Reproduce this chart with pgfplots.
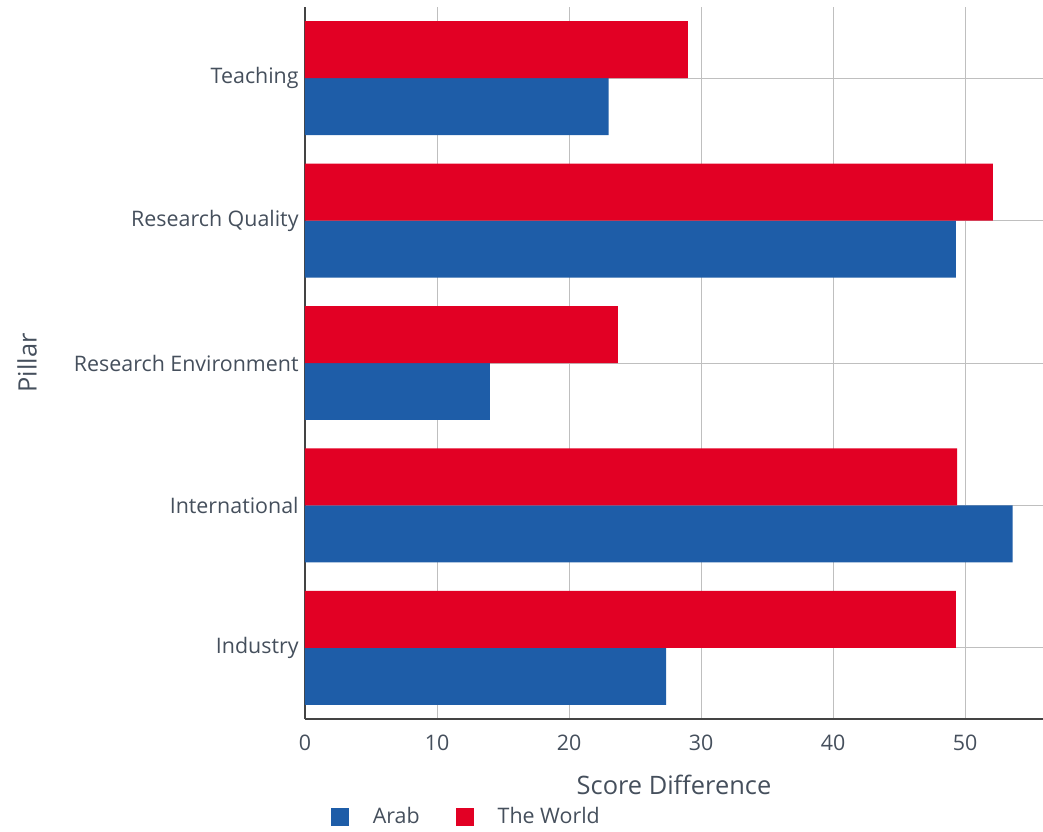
\documentclass[border=0pt]{standalone}
\usepackage{fontspec}
\setmainfont{Open Sans}
\usepackage{pgfplots}
\pgfplotsset{compat=1.18}
\definecolor{arab}{HTML}{1E5DA8}
\definecolor{world}{HTML}{E20024}
\definecolor{txt}{HTML}{454F5C}
\definecolor{grid}{HTML}{CDCDCD}
\definecolor{axline}{HTML}{444444}
\begin{document}
\begin{tikzpicture}
\begin{axis}[
  at={(0,0)}, anchor=south west,
  scale only axis,
  width=369pt, height=356pt,
  xmin=0, xmax=55.9,
  ymin=-0.5, ymax=4.5,
  axis x line=bottom, axis y line=left,
  axis line style={-, axline, line width=1pt},
  xtick={0,10,20,30,40,50},
  ytick={0,1,2,3,4},
  yticklabels={Industry,International,Research Environment,Research Quality,Teaching},
  major tick length=0pt,
  xmajorgrids, ymajorgrids,
  major grid style={grid, line width=0.5pt},
  /pgf/number format/assume math mode=true,
  tick label style={font=\fontsize{10.7pt}{12.5pt}\selectfont, text=txt},
  xticklabel style={inner sep=0pt, anchor=north, yshift=-8pt},
  yticklabel style={inner sep=0pt, anchor=east, xshift=-3pt},
  xlabel={Score Difference},
  ylabel={Pillar},
  every axis x label/.style={at={(axis description cs:0.5,-0.0927)}, anchor=center, font=\fontsize{12.7pt}{15pt}\selectfont, text=txt},
  every axis y label/.style={at={(axis description cs:-0.3767,0.5)}, rotate=90, anchor=center, font=\fontsize{12.7pt}{15pt}\selectfont, text=txt},
  xbar, bar width=0.4,
  legend columns=2,
  legend style={at={(axis description cs:0.035,-0.1376)}, anchor=west, draw=none, fill=none, inner sep=0pt, outer sep=0pt,
    font=\fontsize{10.7pt}{12.5pt}\selectfont, text=txt,
    /tikz/every even column/.append style={column sep=16pt}},
  legend image code/.code={\fill[#1] (0pt,-4.5pt) rectangle (9pt,4.5pt); \path[draw=none, fill=none] (0pt,0pt) -- (19pt,0pt);},
  legend cell align=left,
]
\addplot[fill=arab, draw=none, bar shift=-0.2] coordinates {(27.35,0) (53.6,1) (14.0,2) (49.3,3) (23.0,4)};
\addplot[fill=world, draw=none, bar shift=0.2] coordinates {(49.3,0) (49.4,1) (23.7,2) (52.1,3) (29.0,4)};
\legend{Arab, The World}
\end{axis}
\pgfresetboundingbox
\useasboundingbox (-152.5pt,-56pt) rectangle (369pt,359.5pt);
\end{tikzpicture}
\end{document}
